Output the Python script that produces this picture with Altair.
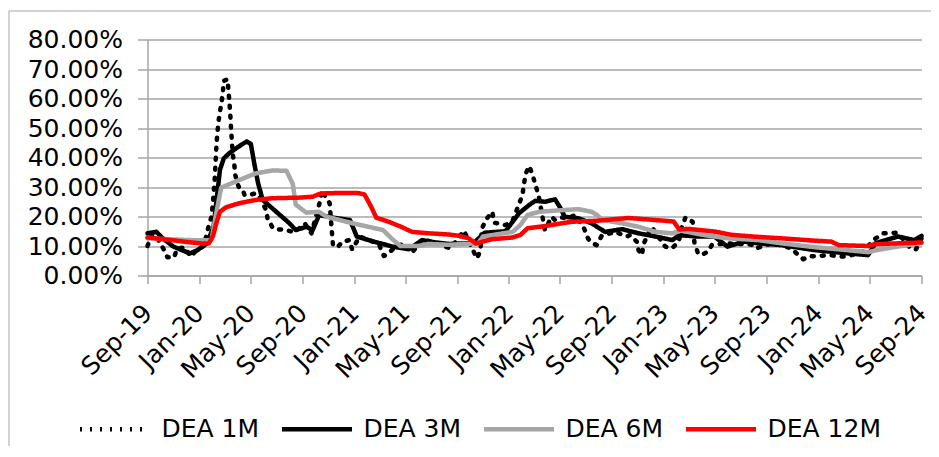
import altair as alt
import pandas as pd

series_names = ["DEA 1M", "DEA 3M", "DEA 6M", "DEA 12M"]
series_colors = ["#000000", "#000000", "#a6a6a6", "#ff0000"]

tick_dates = ["2019-09-01", "2020-01-01", "2020-05-01", "2020-09-01", "2021-01-01",
              "2021-05-01", "2021-09-01", "2022-01-01", "2022-05-01", "2022-09-01",
              "2023-01-01", "2023-05-01", "2023-09-01", "2024-01-01", "2024-05-01",
              "2024-09-01"]
y_ticks = [0, 10, 20, 30, 40, 50, 60, 70, 80]

m1_dates = ["2019-09-01", "2019-09-12", "2019-09-25", "2019-10-08", "2019-10-18", "2019-11-03",
            "2019-11-10", "2019-11-28", "2019-12-12", "2019-12-28", "2020-01-12", "2020-01-22",
            "2020-01-30", "2020-02-03", "2020-02-07", "2020-02-11", "2020-02-15", "2020-02-19",
            "2020-02-23", "2020-02-26", "2020-02-28", "2020-03-08", "2020-03-10", "2020-03-12",
            "2020-03-14", "2020-03-16", "2020-03-20", "2020-03-24", "2020-03-26", "2020-04-03",
            "2020-04-13", "2020-04-17", "2020-04-29", "2020-05-14", "2020-05-22", "2020-06-07",
            "2020-06-11", "2020-06-15", "2020-06-23", "2020-07-01", "2020-07-24", "2020-08-09",
            "2020-08-25", "2020-09-06", "2020-09-22", "2020-10-11", "2020-10-17", "2020-10-27",
            "2020-11-04", "2020-11-08", "2020-11-12", "2020-11-24", "2020-12-04", "2020-12-21",
            "2020-12-27", "2021-01-14", "2021-02-14", "2021-03-01", "2021-03-12", "2021-03-20",
            "2021-04-09", "2021-05-02", "2021-05-10", "2021-05-18", "2021-06-10", "2021-07-20",
            "2021-07-27", "2021-08-17", "2021-09-17", "2021-10-07", "2021-10-18", "2021-10-26",
            "2021-10-29", "2021-11-07", "2021-11-23", "2021-11-27", "2021-12-24", "2022-01-09",
            "2022-02-02", "2022-02-06", "2022-02-10", "2022-02-18", "2022-02-26", "2022-03-04",
            "2022-03-12", "2022-03-27", "2022-04-12", "2022-04-20", "2022-05-05", "2022-05-21",
            "2022-06-06", "2022-06-26", "2022-07-07", "2022-07-15", "2022-07-27", "2022-08-08",
            "2022-09-09", "2022-10-06", "2022-10-14", "2022-10-30", "2022-11-03", "2022-11-11",
            "2022-11-15", "2022-12-04", "2023-01-05", "2023-01-21", "2023-02-06", "2023-02-14",
            "2023-02-22", "2023-03-11", "2023-03-15", "2023-03-23", "2023-03-31", "2023-04-16",
            "2023-04-25", "2023-05-25", "2023-07-27", "2023-08-08", "2023-09-15", "2023-10-30",
            "2023-11-11", "2023-11-27", "2023-12-08", "2024-01-29", "2024-02-25", "2024-03-07",
            "2024-04-15", "2024-05-13", "2024-06-02", "2024-06-14", "2024-07-07", "2024-08-08",
            "2024-08-19", "2024-09-01"]
m1_vals = [10.0, 14.0, 12.5, 9.2, 6.2, 6.2,
           9.2, 9.5, 6.4, 8.9, 10.0, 16.0,
           19.9, 25.6, 33.5, 44.8, 51.6, 55.5,
           58.9, 62.3, 66.0, 66.5, 62.9, 59.5,
           55.5, 50.5, 41.4, 37.5, 34.1, 30.1,
           29.0, 27.3, 27.3, 27.9, 26.7, 22.2,
           18.8, 18.2, 16.0, 15.7, 15.4, 14.8,
           16.0, 17.7, 14.3, 24.5, 29.0, 26.2,
           24.5, 17.0, 10.0, 9.8, 11.5, 12.0,
           8.8, 13.2, 11.5, 10.3, 6.6, 7.2,
           9.8, 10.9, 9.2, 7.8, 12.2, 10.9,
           10.0, 9.2, 15.2, 8.9, 5.8, 8.6,
           15.7, 18.8, 21.6, 17.9, 17.1, 18.2,
           27.3, 31.3, 34.6, 37.1, 34.1, 31.0,
           27.3, 15.4, 19.9, 18.8, 19.7, 19.4,
           20.5, 16.5, 12.5, 11.1, 10.3, 13.4,
           14.8, 13.2, 13.7, 11.5, 8.6, 6.9,
           10.7, 16.5, 9.8, 9.2, 11.5, 16.8,
           19.7, 18.2, 11.1, 7.7, 6.9, 8.1,
           10.3, 10.9, 10.5, 9.2, 11.0, 9.2,
           7.5, 5.5, 6.4, 6.9, 6.4, 6.4,
           8.0, 12.3, 14.3, 14.3, 14.5, 8.9,
           8.9, 12.5]

m3_dates = ["2019-09-01", "2019-09-22", "2019-10-07", "2019-11-01", "2019-12-10", "2019-12-28",
            "2020-01-19", "2020-02-04", "2020-02-19", "2020-02-28", "2020-03-13", "2020-04-05",
            "2020-04-22", "2020-05-02", "2020-05-10", "2020-05-19", "2020-05-30", "2020-07-01",
            "2020-08-01", "2020-08-16", "2020-09-10", "2020-09-25", "2020-10-10", "2020-11-12",
            "2020-12-22", "2021-01-07", "2021-02-15", "2021-04-01", "2021-05-10", "2021-06-10",
            "2021-07-12", "2021-08-13", "2021-10-10", "2021-11-05", "2021-12-24", "2022-01-25",
            "2022-02-18", "2022-03-04", "2022-03-28", "2022-04-20", "2022-05-01", "2022-05-13",
            "2022-06-14", "2022-07-15", "2022-08-16", "2022-09-25", "2022-11-03", "2022-12-13",
            "2023-01-22", "2023-02-07", "2023-03-22", "2023-05-01", "2023-06-01", "2023-07-10",
            "2023-08-13", "2023-10-07", "2023-12-24", "2024-03-10", "2024-04-28", "2024-05-15",
            "2024-07-07", "2024-08-15", "2024-09-01"]
m3_vals = [14.3, 14.8, 12.6, 9.8, 7.5, 8.6,
           10.9, 16.5, 35.8, 39.7, 41.6, 43.9,
           45.4, 44.6, 38.0, 31.3, 25.6, 21.6,
           17.7, 15.4, 16.5, 15.4, 20.5, 19.6,
           18.8, 13.2, 11.5, 9.8, 8.9, 12.0,
           11.2, 10.7, 11.0, 14.5, 15.0, 21.1,
           23.9, 25.3, 25.0, 25.8, 23.3, 19.9,
           19.4, 17.7, 14.8, 15.7, 14.3, 13.2,
           12.0, 13.7, 13.2, 13.2, 9.8, 11.5,
           10.9, 10.3, 8.6, 7.5, 6.9, 10.9,
           13.2, 12.0, 13.4]

m6_dates = ["2019-09-01", "2019-11-01", "2020-01-01", "2020-01-30", "2020-02-10", "2020-02-22",
            "2020-04-05", "2020-05-13", "2020-06-22", "2020-07-25", "2020-08-09", "2020-08-16",
            "2020-09-10", "2020-10-10", "2020-10-28", "2020-12-28", "2021-03-10", "2021-04-01",
            "2021-04-20", "2021-06-01", "2021-06-25", "2021-08-13", "2021-10-01", "2021-10-20",
            "2021-11-01", "2022-01-10", "2022-01-28", "2022-02-14", "2022-03-14", "2022-05-12",
            "2022-06-14", "2022-07-15", "2022-07-28", "2022-08-10", "2022-09-25", "2022-11-03",
            "2022-12-13", "2023-01-22", "2023-02-12", "2023-04-06", "2023-06-01", "2023-08-13",
            "2023-10-07", "2023-12-24", "2024-03-10", "2024-04-28", "2024-05-22", "2024-07-07",
            "2024-09-01"]
m6_vals = [12.6, 12.2, 11.9, 12.0, 21.0, 29.8,
           32.4, 34.6, 35.6, 35.5, 31.0, 24.0,
           21.3, 21.6, 19.9, 17.7, 15.4, 12.3,
           10.0, 10.0, 10.7, 10.4, 10.8, 10.9,
           13.2, 14.8, 17.1, 20.5, 21.6, 22.2,
           22.5, 21.6, 20.5, 18.8, 17.7, 16.5,
           14.8, 14.3, 15.2, 13.7, 12.6, 12.0,
           10.9, 9.6, 8.6, 7.9, 8.7, 9.8,
           11.0]

m12_dates = ["2019-09-01", "2019-10-15", "2019-12-01", "2020-01-10", "2020-01-24", "2020-02-03",
             "2020-02-10", "2020-02-19", "2020-03-04", "2020-04-05", "2020-05-13", "2020-06-22",
             "2020-08-25", "2020-09-25", "2020-10-10", "2020-10-28", "2021-01-07", "2021-01-25",
             "2021-02-10", "2021-02-22", "2021-03-24", "2021-04-25", "2021-05-17", "2021-06-26",
             "2021-08-13", "2021-09-07", "2021-09-28", "2021-10-16", "2021-11-01", "2021-11-22",
             "2022-01-10", "2022-01-28", "2022-02-14", "2022-03-29", "2022-05-28", "2022-08-01",
             "2022-10-10", "2022-12-13", "2023-01-25", "2023-02-07", "2023-03-01", "2023-05-01",
             "2023-06-10", "2023-08-01", "2023-10-07", "2023-12-24", "2024-02-01", "2024-02-19",
             "2024-04-28", "2024-05-13", "2024-07-07", "2024-09-01"]
m12_vals = [12.9, 12.2, 11.4, 10.8, 10.9, 13.5,
            17.5, 21.6, 23.1, 24.5, 25.6, 26.2,
            26.4, 26.7, 27.6, 27.9, 28.0, 27.5,
            23.3, 19.6, 18.2, 16.3, 14.8, 14.3,
            13.9, 13.4, 12.6, 10.8, 11.5, 12.3,
            12.9, 13.7, 16.0, 16.8, 18.2, 18.6,
            19.5, 18.8, 18.3, 15.6, 15.8, 14.9,
            13.8, 13.2, 12.6, 11.8, 11.5, 10.3,
            10.0, 10.6, 10.9, 11.2]

frames = []
for name, d, v in zip(series_names,
                      [m1_dates, m3_dates, m6_dates, m12_dates],
                      [m1_vals, m3_vals, m6_vals, m12_vals]):
    frames.append(pd.DataFrame({"date": d, "value": [x / 100 for x in v], "series": name}))
df = pd.concat(frames, ignore_index=True)

FONT = "DejaVu Sans"
GRID = "#a6a6a6"

legend = alt.Legend(
    title=None, orient="none", direction="horizontal", legendX=-70, legendY=352,
    symbolType="stroke", symbolSize=4900, labelFontSize=25, labelFont=FONT,
    labelColor="#000000", labelOffset=9, columnPadding=13, padding=0,
)

x_enc = alt.X(
    "date:T",
    scale=alt.Scale(type="utc", domain=["2019-09-01", "2024-09-01"]),
    axis=alt.Axis(
        values=[alt.DateTime(year=int(t[:4]), month=int(t[5:7]), date=1, utc=True) for t in tick_dates],
        labelExpr="utcFormat(datum.value, '%b-%y')",
        labelAngle=-45, labelAlign="right", labelBaseline="middle",
        labelFontSize=25, labelFont=FONT, labelColor="#000000",
        labelPadding=25, labelOffset=0, labelOverlap=False, labelFlush=False, labelBound=False,
        tickSize=8, tickColor=GRID, domainColor=GRID, domainWidth=1.5, tickWidth=1.5,
        grid=False, title=None,
    ),
)
y_enc = alt.Y(
    "value:Q",
    scale=alt.Scale(domain=[0, 0.8], nice=False),
    axis=alt.Axis(
        values=[t / 100 for t in y_ticks], format=".2%",
        labelFontSize=25, labelFont=FONT, labelColor="#000000", labelPadding=15,
        tickSize=10, tickColor=GRID, tickWidth=1.5, domainColor=GRID, domainWidth=1.5,
        grid=True, gridColor=GRID, gridWidth=1.5, title=None,
    ),
)

base = alt.Chart(df).encode(
    x=x_enc,
    y=y_enc,
    color=alt.Color("series:N", scale=alt.Scale(domain=series_names, range=series_colors), legend=legend),
    strokeDash=alt.StrokeDash("series:N", scale=alt.Scale(domain=series_names,
                              range=[[2, 8], [1, 0], [1, 0], [1, 0]]), legend=legend),
    strokeWidth=alt.StrokeWidth("series:N", scale=alt.Scale(domain=series_names,
                                range=[4.5, 4.5, 5, 5]), legend=legend),
)

layers = [
    base.transform_filter(alt.datum.series == n).mark_line(strokeCap="round", strokeJoin="round")
    for n in series_names
]

frame = alt.Chart(pd.DataFrame({"a": [0]})).mark_rect(
    fillOpacity=0, stroke="#a6a6a6", strokeWidth=1
).encode(x=alt.value(-138.5), x2=alt.value(830), y=alt.value(-28.5), y2=alt.value(450))

chart = alt.layer(frame, *layers).properties(
    width=774, height=236,
    autosize=alt.AutoSizeParams(type="none"),
    padding={"left": 139.5, "top": 31.5, "right": 9.5, "bottom": 170},
).configure_view(stroke=None)

chart.save("out.html", embed_options={"renderer": "svg", "actions": False})
